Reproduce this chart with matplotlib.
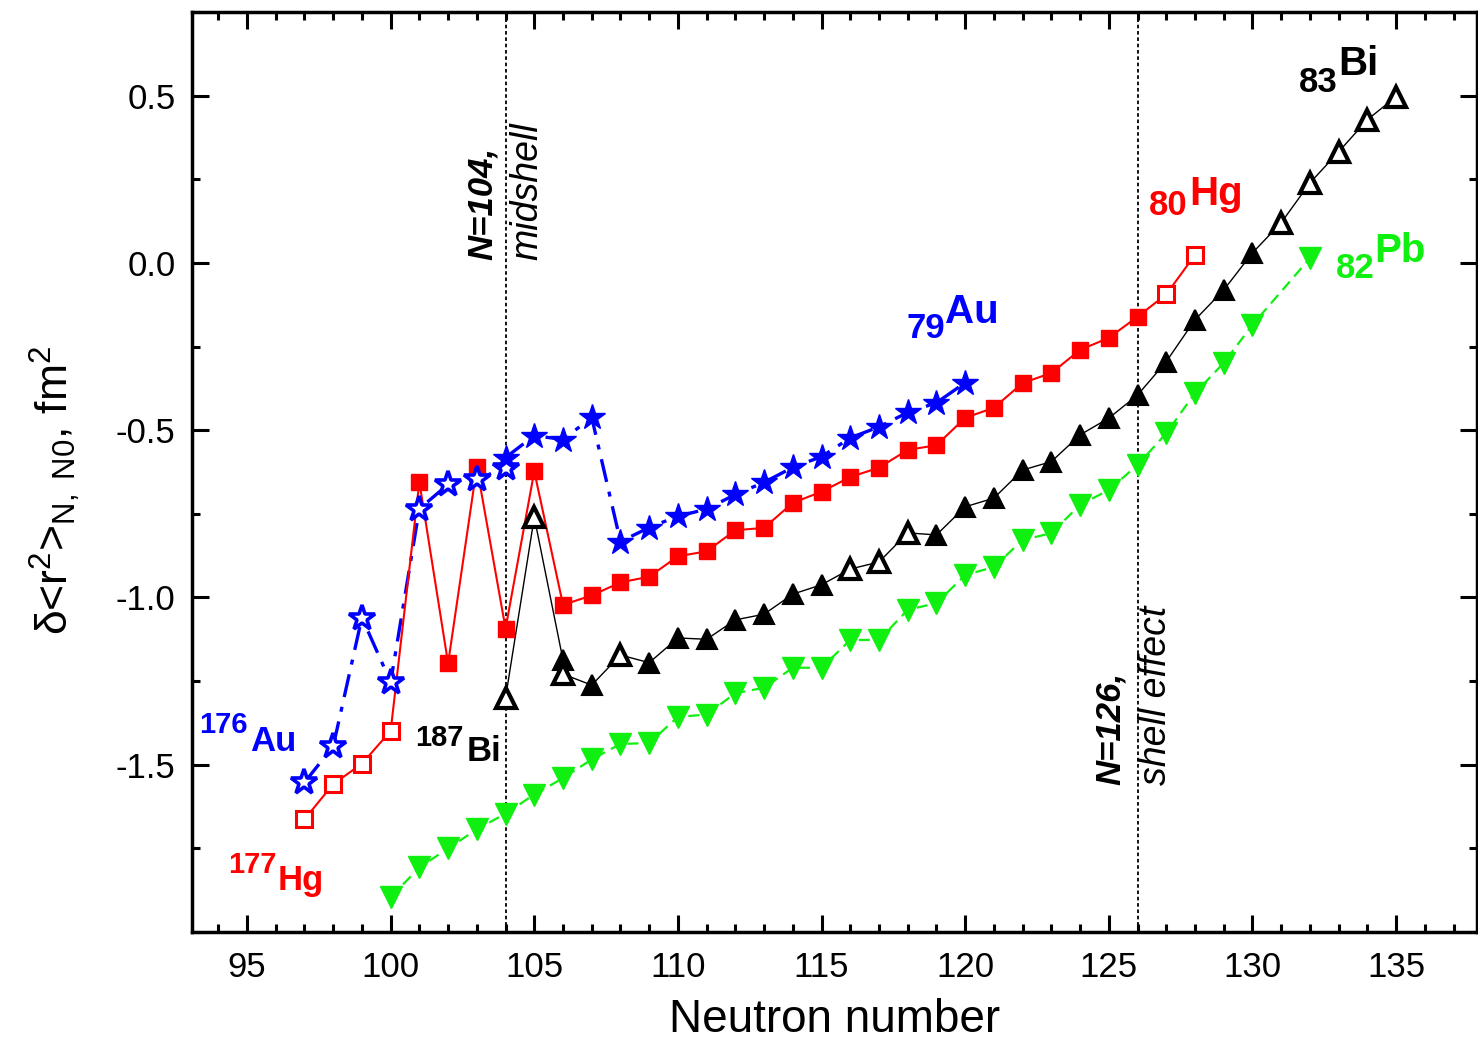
import matplotlib
matplotlib.use('Agg')
import matplotlib.pyplot as plt
from matplotlib.ticker import MultipleLocator, FixedLocator

plt.rcParams['font.family'] = ['Liberation Sans', 'DejaVu Sans']
plt.rcParams['mathtext.fontset'] = 'custom'
plt.rcParams['mathtext.rm'] = 'Liberation Sans'
plt.rcParams['mathtext.it'] = 'Liberation Sans:italic'
plt.rcParams['mathtext.bf'] = 'Liberation Sans:bold'

# 79Au
au_open_n = [97, 98, 99, 100, 101, 102, 103, 104]
au_open = [-1.553, -1.445, -1.06, -1.253, -0.735, -0.662, -0.647, -0.612]
au_fill_n = [104, 105, 106, 107, 108, 109, 110, 111, 112, 113, 114, 115, 116, 117, 118, 119, 120]
au_fill = [-0.582, -0.516, -0.528, -0.462, -0.833, -0.791, -0.757, -0.736, -0.692,
           -0.656, -0.611, -0.579, -0.523, -0.49, -0.447, -0.418, -0.358]

# 80Hg
hg_open_n = [97, 98, 99, 100, 127, 128]
hg_open = [-1.663, -1.558, -1.497, -1.399, -0.094, 0.024]
hg_fill_n = list(range(101, 127))
hg_fill = [-0.655, -1.197, -0.61, -1.093, -0.623, -1.022, -0.994, -0.955, -0.938, -0.877,
           -0.862, -0.799, -0.792, -0.717, -0.684, -0.64, -0.612, -0.559, -0.545, -0.463,
           -0.433, -0.359, -0.329, -0.26, -0.224, -0.161]

# 83Bi
bi_open_n = [104, 105, 106, 108, 116, 117, 118, 131, 132, 133, 134, 135]
bi_open = [-1.30, -0.76, -1.229, -1.172, -0.915, -0.894, -0.807, 0.12, 0.239, 0.332, 0.428, 0.497]
bi_fill_n = [106, 107, 109, 110, 111, 112, 113, 114, 115, 119, 120, 121, 122, 123, 124,
             125, 126, 127, 128, 129, 130]
bi_fill = [-1.187, -1.262, -1.195, -1.121, -1.125, -1.067, -1.05, -0.99, -0.962, -0.813,
           -0.729, -0.703, -0.619, -0.594, -0.514, -0.464, -0.395, -0.295, -0.17, -0.081, 0.03]

# 82Pb
pb_n = list(range(100, 131)) + [132]
pb = [-1.896, -1.807, -1.75, -1.693, -1.646, -1.589, -1.54, -1.484, -1.438, -1.435,
      -1.357, -1.35, -1.286, -1.27, -1.21, -1.21, -1.127, -1.127, -1.037, -1.017,
      -0.933, -0.909, -0.828, -0.808, -0.723, -0.679, -0.604, -0.509, -0.389, -0.299,
      -0.185, 0.014]

blue = '#0000FF'
red = '#FF0000'
green = '#10F010'


def joined(n1, v1, n2, v2):
    pts = sorted(zip(n1 + n2, v1 + v2), key=lambda p: p[0])
    return [p[0] for p in pts], [p[1] for p in pts]


fig = plt.figure(figsize=(14.78, 10.43), dpi=100)
ax = fig.add_axes([0.130, 0.1064, 0.869, 0.8821])

# lines
x, y = joined(au_open_n, au_open, au_fill_n, au_fill)
ax.plot(x, y, color=blue, lw=2.4, ls=(0, (7, 3, 1.5, 3)), zorder=2)
x, y = joined(hg_open_n, hg_open, hg_fill_n, hg_fill)
ax.plot(x, y, color=red, lw=1.5, zorder=2)
x, y = joined(bi_fill_n, bi_fill, bi_open_n, bi_open)
ax.plot(x, y, color='black', lw=1.0, zorder=2)
ax.plot(pb_n, pb, color=green, lw=1.6, ls=(0, (5, 3)), zorder=2)

# markers
ax.plot(pb_n, pb, ls='none', marker='v', ms=16, color=green, mec=green, mew=1, zorder=3)
ax.plot(bi_fill_n, bi_fill, ls='none', marker='^', ms=15, color='black', mec='black', mew=1.5, zorder=3)
ax.plot(bi_open_n, bi_open, ls='none', marker='^', ms=15, mfc='white', mec='black', mew=3, zorder=3)
ax.plot(hg_fill_n, hg_fill, ls='none', marker='s', ms=11.5, color=red, mec=red, mew=1, zorder=4)
ax.plot(hg_open_n, hg_open, ls='none', marker='s', ms=11, mfc='white', mec=red, mew=2.2, zorder=4)
ax.plot(au_open_n, au_open, ls='none', marker='*', ms=19, mfc='white', mec=blue, mew=2.6, zorder=5)
ax.plot(au_fill_n, au_fill, ls='none', marker='*', ms=19, color=blue, mec=blue, mew=1, zorder=5)

# shell markers
for nv in [104, 126]:
    ax.axvline(nv, color='black', lw=1.3, ls=(0, (2, 1.5)), zorder=1)

ax.text(103.2, 0.01, 'N=104,', rotation=90, ha='center', va='bottom', fontsize=25,
        fontweight='bold', fontstyle='italic')
ax.text(104.75, 0.01, 'midshell', rotation=90, ha='center', va='bottom', fontsize=27,
        fontstyle='italic')
ax.text(125.05, -1.56, 'N=126,', rotation=90, ha='center', va='bottom', fontsize=25,
        fontweight='bold', fontstyle='italic')
ax.text(126.65, -1.56, 'shell effect', rotation=90, ha='center', va='bottom', fontsize=27,
        fontstyle='italic')

# element labels: number and symbol as separate texts
lab = dict(fontweight='bold', ha='left', va='baseline')
left_labels = [('176', 93.32, -1.406, 'Au', 95.10, -1.458, blue),
               ('177', 94.36, -1.824, 'Hg', 96.08, -1.874, red),
               ('187', 100.86, -1.443, 'Bi', 102.65, -1.49, 'black')]
for num, xn, yn, sym, xs, ys, c in left_labels:
    ax.text(xn, yn, num, fontsize=21, color=c, **lab)
    ax.text(xs, ys, sym, fontsize=25, color=c, **lab)

right_labels = [('79', 117.97, -0.224, 'Au', 119.30, -0.179, blue),
                ('80', 126.39, 0.1435, 'Hg', 127.80, 0.173, red),
                ('83', 131.61, 0.511, 'Bi', 132.97, 0.562, 'black'),
                ('82', 132.89, -0.045, 'Pb', 134.25, 0.003, green)]
for num, xn, yn, sym, xs, ys, c in right_labels:
    ax.text(xn, yn, num, fontsize=25, color=c, **lab)
    ax.text(xs, ys, sym, fontsize=29, color=c, **lab)

ax.set_xlim(93.09, 137.8)
ax.set_ylim(-2.0, 0.75)
ax.xaxis.set_major_locator(MultipleLocator(5))
ax.xaxis.set_minor_locator(MultipleLocator(1))
ax.yaxis.set_major_locator(FixedLocator([-1.5, -1.0, -0.5, 0.0, 0.5]))
ax.yaxis.set_minor_locator(MultipleLocator(0.25))
ax.tick_params(which='both', direction='in', top=True, right=True, width=2.2, labelsize=25)
ax.tick_params(which='major', length=12)
ax.tick_params(which='minor', length=6)
ax.tick_params(axis='x', pad=14)
ax.tick_params(axis='y', pad=12)
ax.yaxis.set_major_formatter(matplotlib.ticker.FuncFormatter(lambda v, p: '%.1f' % v))
for s in ax.spines.values():
    s.set_linewidth(2.5)

ax.set_xlabel('Neutron number', fontsize=33, labelpad=10)
ax.text((55 - 192) / 1285, 0.48, 'δ<r$^2$>$_{\\mathrm{N,\\ N0}}$, fm$^2$', rotation=90,
        ha='center', va='center', fontsize=32, transform=ax.transAxes)

fig.savefig('out.png', dpi=100)
